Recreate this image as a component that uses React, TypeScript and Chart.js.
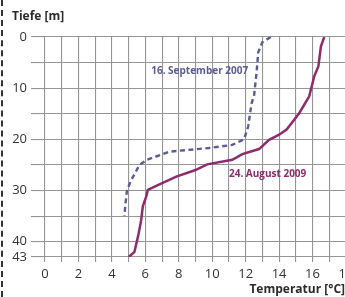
import React, { useEffect, useRef } from "react";
import { Chart, registerables } from "chart.js";

Chart.register(...registerables);

const sep2007Temp = [13.5, 13.0, 12.75, 12.65, 12.5, 12.35, 12.15, 11.9, 11.2, 9.8, 7.45, 6.1, 5.65, 5.15, 4.9, 4.8, 4.75];
const sep2007Depth = [0, 1, 3, 7, 11.5, 13, 17.5, 20, 21.1, 21.7, 22.4, 24, 25, 28, 30, 33, 35];

const aug2009Temp = [16.7, 16.5, 16.35, 16.1, 15.8, 15.2, 14.45, 14.0, 13.4, 12.8, 11.8, 11.2, 9.7, 9.0, 7.85, 6.65, 6.15, 6.05, 5.85, 5.75, 5.6, 5.35, 5.0];
const aug2009Depth = [0, 1.8, 5.7, 7.7, 11.6, 14.9, 18.1, 19.1, 20.1, 21.9, 22.9, 24, 24.9, 26, 27.3, 29.1, 29.9, 31.2, 33.1, 35.8, 38.4, 42, 43];

const depthTicks = [0, 5, 10, 15, 20, 25, 30, 35, 40, 43];
const depthLabels = [0, 10, 20, 30, 40, 43];

const seriesNames = ["16. September 2007", "24. August 2009"];
const xTitle = "Temperatur [°C]";
const yTitle = "Tiefe [m]";

const BLUE = "#5b5b98";
const PURPLE = "#8c2c6c";
const FONT = "'Open Sans', sans-serif";

export default function App() {
  const ref = useRef<HTMLCanvasElement>(null);

  useEffect(() => {
    document.body.style.margin = "0";
    document.body.style.overflow = "hidden";
    const canvas = ref.current!;
    const labelsPlugin = {
      id: "texts",
      afterDraw(chart: any) {
        const ctx = chart.ctx;
        const xs = chart.scales.x;
        const ys = chart.scales.y;
        ctx.save();
        ctx.fillStyle = "#2b2b2b";
        ctx.font = `bold 12px ${FONT}`;
        ctx.textBaseline = "middle";
        ctx.textAlign = "left";
        ctx.fillText(yTitle, 12, 17);
        ctx.textAlign = "right";
        ctx.fillText(xTitle, 345, 290);
        ctx.font = `bold 10px ${FONT}`;
        ctx.fillStyle = BLUE;
        ctx.textAlign = "right";
        ctx.fillText(seriesNames[0], xs.getPixelForValue(12.15), ys.getPixelForValue(6.6));
        ctx.fillStyle = PURPLE;
        ctx.textAlign = "left";
        ctx.fillText(seriesNames[1], xs.getPixelForValue(11.0), ys.getPixelForValue(26.75));
        ctx.restore();
      },
    };
    const chart = new Chart(canvas, {
      type: "line",
      data: {
        datasets: [
          {
            label: seriesNames[0],
            data: sep2007Temp.map((t, i) => ({ x: t, y: sep2007Depth[i] })),
            borderColor: BLUE,
            borderWidth: 2.4,
            borderDash: [5, 3.5],
            pointRadius: 0,
            tension: 0,
            fill: false,
          },
          {
            label: seriesNames[1],
            data: aug2009Temp.map((t, i) => ({ x: t, y: aug2009Depth[i] })),
            borderColor: PURPLE,
            borderWidth: 2.5,
            pointRadius: 0,
            tension: 0,
            fill: false,
          },
        ],
      },
      options: {
        animation: false,
        responsive: false,
        maintainAspectRatio: false,
        layout: { padding: { top: 37, right: 14, left: 0, bottom: 0 } },
        plugins: { legend: { display: false }, tooltip: { enabled: false } },
        scales: {
          x: {
            type: "linear",
            min: 0,
            max: 18,
            afterFit: (s: any) => { s.height = 40; },
            ticks: {
              stepSize: 1,
              autoSkip: false,
              maxRotation: 0,
              color: "#333",
              font: { family: FONT, size: 13 },
              padding: 4,
              callback: (v: any) => (Number(v) % 2 === 0 ? String(v) : ""),
            },
            grid: { color: "#959595", lineWidth: 1.1, tickLength: 5, drawTicks: true },
            border: { display: false },
          },
          y: {
            type: "linear",
            reverse: true,
            min: 0,
            max: 43,
            afterFit: (s: any) => { s.width = 45; },
            afterBuildTicks: (s: any) => { s.ticks = depthTicks.map((v) => ({ value: v })); },
            ticks: {
              autoSkip: false,
              color: "#333",
              font: { family: FONT, size: 13 },
              padding: 4,
              callback: (v: any) => (depthLabels.includes(Number(v)) ? String(v) : ""),
            },
            grid: { color: "#959595", lineWidth: 1.1, tickLength: 14, drawTicks: true },
            border: { display: false },
          },
        },
      },
      plugins: [labelsPlugin],
    });
    return () => chart.destroy();
  }, []);

  return (
    <div style={{ position: "relative", width: 345, height: 297, overflow: "hidden", background: "#fff" }}>
      <canvas ref={ref} width={360} height={297} style={{ position: "absolute", left: 0, top: 0 }} />
      <div style={{ position: "absolute", left: 1, top: 0, height: 297, borderLeft: "2px dashed #333" }} />
    </div>
  );
}
